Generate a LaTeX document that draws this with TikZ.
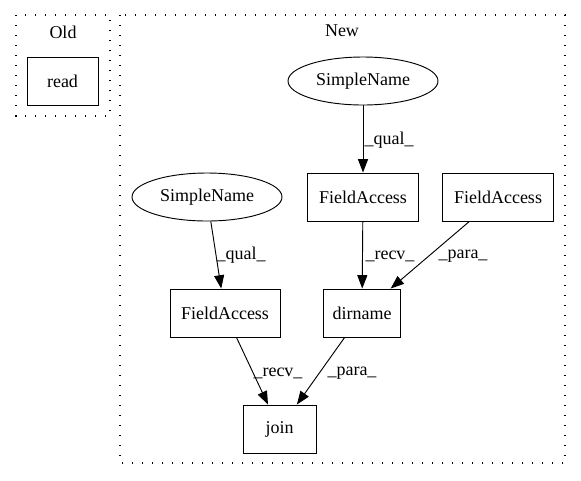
\documentclass[tikz,border=0pt]{standalone}
\usepackage{fontspec}
\setmainfont{Liberation Serif}
\usetikzlibrary{arrows.meta,shapes.geometric}
\begin{document}
\begin{tikzpicture}[x=0.75pt,y=-0.75pt,
  every node/.style={font=\fontsize{13.5pt}{15pt}\selectfont},
  box/.style={draw,line width=0.7pt,rectangle,inner sep=0pt,minimum height=48*0.75pt},
  ell/.style={draw,line width=0.7pt,ellipse,minimum width=150*0.75pt,minimum height=48*0.75pt,inner sep=0pt},
  clus/.style={draw,line width=1pt,dash pattern=on 1pt off 6.5pt},
  edge/.style={line width=0.7pt,-{Triangle[length=10pt,width=7.5pt]}},
  lab/.style={inner sep=0pt}]
\useasboundingbox (0,0) rectangle (581,480);
% clusters
\draw[clus] (16,15) rectangle (110,116);
\node (oldlab) at (63,32) {Old};
\draw[clus] (120,15) rectangle (565,463);
\node (newlab) at (342,31) {New};
% nodes
\node[box,minimum width=71*0.75pt] (read) at (62.5,81) {read};
\node[ell] (sn1) at (363,81) {SimpleName};
\node[box,minimum width=111*0.75pt] (fa1) at (363,197) {FieldAccess};
\node[box,minimum width=111*0.75pt] (fa2) at (498,197) {FieldAccess};
\node[ell] (sn2) at (207,197) {SimpleName};
\node[box,minimum width=110*0.75pt] (fa3) at (225,313) {FieldAccess};
\node[box,minimum width=77*0.75pt] (dir) at (362,313) {dirname};
\node[box,minimum width=73*0.75pt] (join) at (279.5,429) {join};
% edges
\draw[edge] (sn1) -- (fa1);
\draw[edge] (sn2) -- (fa3);
\draw[edge] (fa1) -- (dir);
\draw[edge] (fa2) -- (dir);
\draw[edge] (fa3) -- (join);
\draw[edge] (dir) -- (join);
% edge labels
\node[lab] (l1) at (389,140) {\_qual\_};
\node[lab] (l2) at (241,255) {\_qual\_};
\node[lab] (l3) at (390,256) {\_recv\_};
\node[lab] (l4) at (463,256) {\_para\_};
\node[lab] (l5) at (278,373) {\_recv\_};
\node[lab] (l6) at (352,373) {\_para\_};
\end{tikzpicture}
\end{document}
